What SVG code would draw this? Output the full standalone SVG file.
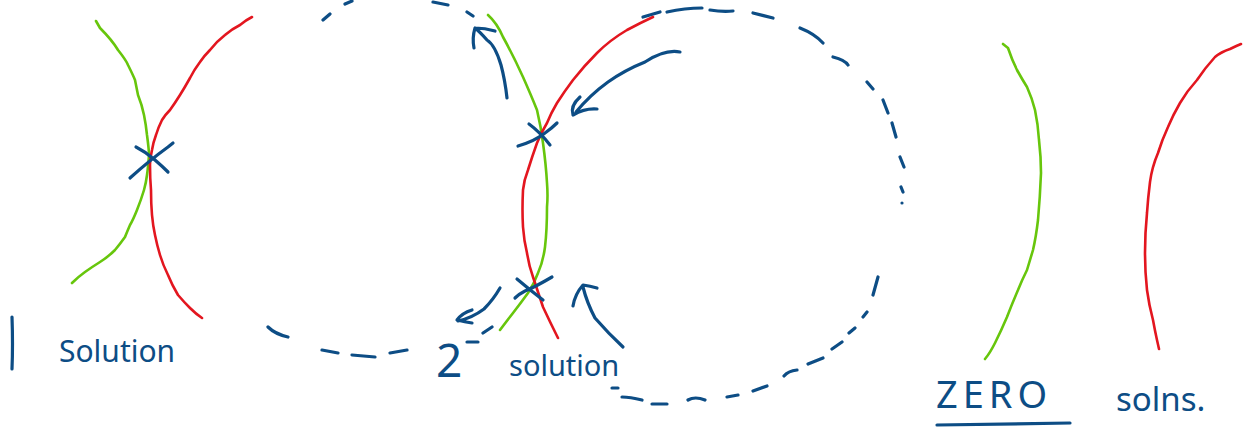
<svg xmlns="http://www.w3.org/2000/svg" width="1248" height="428" viewBox="0 0 1248 428">
<style>
.g{fill:none;stroke:#67c60c;stroke-width:2.6;stroke-linecap:round;stroke-linejoin:round}
.r{fill:none;stroke:#e3161f;stroke-width:2.6;stroke-linecap:round;stroke-linejoin:round}
.b{fill:none;stroke:#0d4d85;stroke-width:3.2;stroke-linecap:round;stroke-linejoin:round}
.t{fill:#0d4d85;font-family:"Noto Sans","Liberation Sans",sans-serif}
</style>
<rect width="1248" height="428" fill="#fff"/>
<g id="panel-one">
<path class="g" d="M96,21 L100,28 Q112,40 118,50 Q126,60 128,65 Q133,75 135,80 Q137,90 138,95 Q142,105 144,115 Q146,125 147,135 Q149,150 149,155 Q148,168 147,175 Q146,183 144,190 Q141,200 137,210 Q133,220 130,225 Q127,232 125,237 Q120,244 115,250 Q108,257 100,262 Q92,267 85,272 Q78,277 72,283"/>
<path class="r" d="M252,17 Q246,20 240,25 Q232,29 225,35 Q216,42 210,50 Q204,56 200,62 Q194,70 190,78 Q185,87 180,95 Q175,103 170,110 Q165,115 162,120 Q158,128 156,135 Q153,143 152,150 Q150,160 150,165 Q150,178 151,190 Q151,203 152,215 Q153,226 155,235 Q157,245 160,255 Q163,265 168,275 Q172,285 178,295 Q184,302 190,308 Q196,314 202,318"/>
<path class="b" d="M130,178 Q150,160 168,147 L173,143 M136,147 Q146,152 155,160 Q162,166 168,172"/>
<path class="b" d="M12,317 Q13,345 12,369"/>
<text class="t" x="59" y="362" font-size="30">Solution</text>
</g>
<g id="panel-two">
<g id="dashed-circle-left">
<path class="b" d="M323,20 L330,14 M345,4 L352,1 M433,2 L448,5 M467,12 L473,16 M268,327 Q275,334 288,337 M322,350 L338,353 M352,355 L375,357 M390,353 L407,350 M467,342 L478,342 M483,333 L492,327"/>
</g>
<g id="dashed-circle-right">
<path class="b" d="M643,17 L660,12 M667,12 Q685,8 702,8 M710,10 Q722,12 733,11 M753,13 L773,18 M800,28 Q815,34 823,43 M833,57 Q845,60 848,65 M867,82 L873,89 M883,100 L888,113 M892,123 L896,137 M900,157 L904,167 M901,187 L903,192 M902,203 L902,203 M878,277 L873,295 M867,312 L863,317 M855,328 L849,333 M842,342 L832,349 M823,358 L808,364 M797,370 Q788,371 784,376 M767,386 L753,391 M738,395 L727,397 M705,400 Q695,396 688,400 M667,404 L652,404 M642,400 Q630,397 622,397 M618,388 L612,388"/>
</g>
<path class="g" d="M488,15 Q497,23 503,37 Q513,55 523,77 Q531,95 537,110 Q541,127 543,143 Q546,165 547,183 Q548,196 547,207 Q547,230 545,247 Q543,262 538,273 Q534,284 528,293 Q520,304 513,313 Q506,322 500,330"/>
<path class="r" d="M653,17 Q640,23 627,30 Q610,40 597,53 Q584,66 573,80 Q564,92 557,103 Q551,113 547,123 Q541,133 537,143 Q532,157 528,170 Q524,180 523,190 Q522,210 523,227 Q524,241 527,253 Q529,266 533,277 Q538,292 543,307 Q550,322 558,338"/>
<path class="b" d="M529,124 Q540,132 550,145 M518,146 Q535,141 545,133 Q552,128 557,123"/>
<path class="b" d="M517,279 Q530,290 543,300 M552,277 Q535,287 525,291 Q519,294 515,298"/>
<text class="t" x="436" y="377" font-size="46">2</text>
<text class="t" x="509" y="376" font-size="29">solution</text>
</g>
<g id="panel-three">
<path class="g" d="M1003,44 L1008,48 Q1012,60 1017,70 Q1022,79 1027,87 Q1032,98 1035,110 Q1038,124 1039,140 Q1041,157 1041,173 Q1040,198 1038,220 Q1036,237 1033,250 Q1030,260 1027,270 Q1022,280 1018,290 Q1012,304 1007,317 Q1001,331 995,343 Q990,353 985,359"/>
<path class="r" d="M1241,44 Q1236,46 1230,49 Q1221,52 1215,57 Q1205,68 1197,80 Q1187,91 1180,103 Q1173,115 1168,127 Q1162,140 1158,153 Q1152,167 1150,182 Q1148,198 1147,213 Q1145,233 1145,253 Q1145,272 1147,290 Q1149,305 1153,320 Q1155,331 1157,340 L1159,349"/>
<text class="t" x="936" y="408" font-size="38" letter-spacing="5">ZERO</text>
<path class="b" d="M937,425 Q1000,424 1070,423"/>
<text class="t" x="1116" y="411" font-size="33">solns.</text>
</g>
<g id="connectors">
<path class="b" d="M507,98 Q505,80 501,65 Q495,45 487,40 Q480,32 475,28 M474,48 Q472,38 475,28 Q485,28 495,31"/>
<path class="b" d="M680,52 Q665,49 645,62 Q625,70 608,82 Q590,95 576,112 M580,97 Q570,106 573,115 Q585,108 597,109"/>
<path class="b" d="M500,288 Q493,300 484,309 Q472,318 458,321 M472,310 Q462,313 457,320 Q465,322 472,323"/>
<path class="b" d="M623,347 Q608,333 595,318 Q587,303 583,287 M573,306 Q575,294 583,285 Q590,286 597,288"/>
</g>
</svg>
